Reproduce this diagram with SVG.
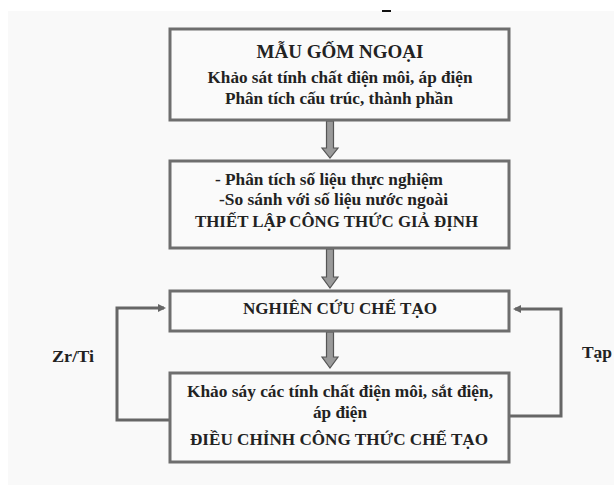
<svg xmlns="http://www.w3.org/2000/svg" width="614" height="485" viewBox="0 0 614 485">
<style>
.box{fill:#fafafa;stroke:#6e6e6e;stroke-width:3}
.t{font-family:"Liberation Serif","Times New Roman",serif;font-weight:bold;fill:#222;text-anchor:middle}
.s{font-size:16.5px}
.h{font-size:19px}
.blk{fill:#9a9a9a;stroke:#555;stroke-width:1.2}
.ln{fill:none;stroke:#666;stroke-width:3}
</style>
<defs>
<marker id="ah" markerWidth="8" markerHeight="8" refX="6" refY="4" orient="auto" markerUnits="userSpaceOnUse">
<path d="M0,0 L8,4 L0,8 z" fill="#666"/>
</marker>
</defs>
<rect x="0" y="0" width="614" height="485" fill="#ffffff"/>
<rect x="8" y="11" width="606" height="474" fill="#f9f9f9"/>
<rect x="382" y="10" width="9" height="2" fill="#111"/>
<g id="connectors">
<path class="blk" d="M326.5,121 H333.5 V148 H338 L330,158 L322,148 H326.5 Z"/>
<path class="blk" d="M326.5,249 H333.5 V277 H338 L330,288 L322,277 H326.5 Z"/>
<path class="blk" d="M326.5,332 H333.5 V357 H338 L330,368 L322,357 H326.5 Z"/>
<path class="ln" d="M170,420 H117 V308 H164" marker-end="url(#ah)"/>
<path class="ln" d="M509,416 H561 V309 H515" marker-end="url(#ah)"/>
</g>
<g id="n1">
<rect class="box" x="170" y="29" width="339" height="91"/>
<text class="t h" x="340" y="58" textLength="167" lengthAdjust="spacingAndGlyphs">MẪU GỐM NGOẠI</text>
<text class="t s" x="340" y="83" textLength="265" lengthAdjust="spacingAndGlyphs">Khảo sát tính chất điện môi, áp điện</text>
<text class="t s" x="339" y="104" textLength="228" lengthAdjust="spacingAndGlyphs">Phân tích cấu trúc, thành phần</text>
</g>
<g id="n2">
<rect class="box" x="170" y="161" width="339" height="87"/>
<text class="t s" x="329" y="185" textLength="228" lengthAdjust="spacingAndGlyphs">- Phân tích số liệu thực nghiệm</text>
<text class="t s" x="333.5" y="205" textLength="229" lengthAdjust="spacingAndGlyphs">-So sánh với số liệu nước ngoài</text>
<text class="t s" x="336.5" y="227" textLength="283" lengthAdjust="spacingAndGlyphs">THIẾT LẬP CÔNG THỨC GIẢ ĐỊNH</text>
</g>
<g id="n3">
<rect class="box" x="170" y="291" width="339" height="40"/>
<text class="t s" x="340" y="314" textLength="194" lengthAdjust="spacingAndGlyphs">NGHIÊN CỨU CHẾ TẠO</text>
</g>
<g id="n4">
<rect class="box" x="170" y="373" width="339" height="89"/>
<text class="t s" x="340" y="397" textLength="306" lengthAdjust="spacingAndGlyphs">Khảo sáy các tính chất điện môi, sắt điện,</text>
<text class="t s" x="340" y="418" textLength="54" lengthAdjust="spacingAndGlyphs">áp điện</text>
<text class="t s" x="339" y="445" textLength="298" lengthAdjust="spacingAndGlyphs">ĐIỀU CHỈNH CÔNG THỨC CHẾ TẠO</text>
</g>
<text class="t s" x="73" y="362" textLength="42" lengthAdjust="spacingAndGlyphs">Zr/Ti</text>
<text class="t s" x="597" y="358" textLength="30" lengthAdjust="spacingAndGlyphs">Tạp</text>
</svg>
